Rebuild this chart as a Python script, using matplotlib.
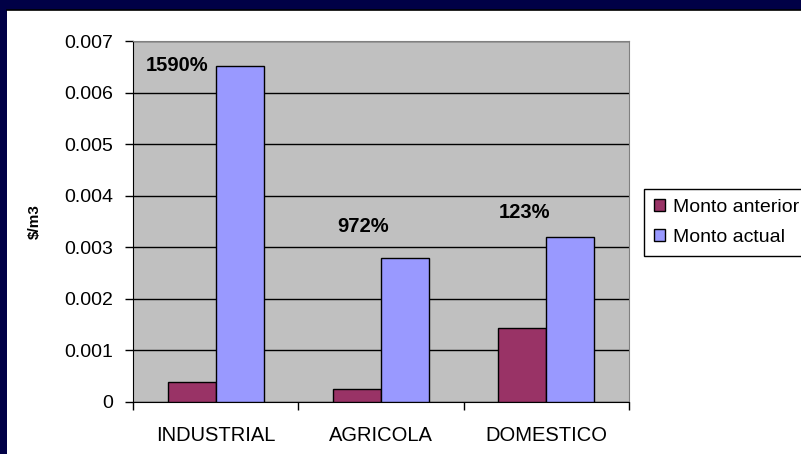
import matplotlib.pyplot as plt
import numpy as np
from matplotlib.patches import Rectangle

plt.rcParams['font.family'] = ['Liberation Sans', 'DejaVu Sans']

categories = ["INDUSTRIAL", "AGRICOLA", "DOMESTICO"]
monto_anterior = [0.000385, 0.000261, 0.00144]
monto_actual = [0.00651, 0.0028, 0.0032]
pct_labels = ["1590%", "972%", "123%"]
pct_x = [-0.234, 0.894, 1.865]
pct_y = [0.00652, 0.00341, 0.00368]

W, H = 801, 454
fig = plt.figure(figsize=(W / 100, H / 100), dpi=100)
fig.patch.set_facecolor("white")

# navy frame (top + left) like the slide background
fig.patches.append(Rectangle((0, 1 - 10 / H), 1, 10 / H, transform=fig.transFigure,
                             facecolor="#000046", edgecolor="none", zorder=0))
fig.patches.append(Rectangle((0, 0), 7 / W, 1, transform=fig.transFigure,
                             facecolor="#000046", edgecolor="none", zorder=0))
fig.lines.append(plt.Line2D([7 / W, 1], [1 - 10 / H, 1 - 10 / H], transform=fig.transFigure,
                            color="black", lw=1.2))

ax = fig.add_axes([133 / W, 1 - 402 / H, (629 - 133) / W, (402 - 41) / H])
ax.set_facecolor("#C0C0C0")

x = np.arange(len(categories))
w = 0.29
ax.bar(x - w / 2, monto_anterior, w, color="#993366", edgecolor="black", lw=1,
       label="Monto anterior", zorder=3)
ax.bar(x + w / 2, monto_actual, w, color="#9999FF", edgecolor="black", lw=1,
       label="Monto actual", zorder=3)

for s, px, py in zip(pct_labels, pct_x, pct_y):
    ax.text(px, py, s, ha="center", va="center", fontsize=14.5, fontweight="bold", zorder=4)

ax.set_xlim(-0.5, 2.5)
ax.set_ylim(0, 0.007)
ax.set_yticks(np.arange(0, 0.0071, 0.001))
ax.set_yticklabels(["0", "0.001", "0.002", "0.003", "0.004", "0.005", "0.006", "0.007"])
ax.yaxis.grid(True, color="black", lw=1, zorder=1)
ax.set_axisbelow(True)

ax.set_xticks([-0.5, 0.5, 1.5, 2.5])
ax.set_xticklabels([])
ax.set_xticks(x, minor=True)
ax.set_xticklabels(categories, minor=True)
ax.tick_params(axis="x", which="major", length=6, width=1, direction="out")
ax.tick_params(axis="x", which="minor", length=0, pad=17, labelsize=14.5)
ax.tick_params(axis="y", length=6, width=1, direction="out", pad=8, labelsize=14)

for sp in ["top", "right"]:
    ax.spines[sp].set_color("#808080")
for sp in ["left", "bottom"]:
    ax.spines[sp].set_color("black")

ax.set_ylabel("$/m3", fontsize=11, fontweight="bold")
ax.yaxis.set_label_coords(-(133 - 42) / (629 - 133), 0.5)

leg = fig.legend(loc="upper left", bbox_to_anchor=(644 / W, 1 - 189 / H), fontsize=14,
                 frameon=True, fancybox=False, edgecolor="black", framealpha=1,
                 handlelength=0.57, handleheight=0.57, handletextpad=0.4,
                 borderpad=0.5, labelspacing=0.7, borderaxespad=0)
leg.get_frame().set_linewidth(1)

plt.savefig("out.png", dpi=100)
